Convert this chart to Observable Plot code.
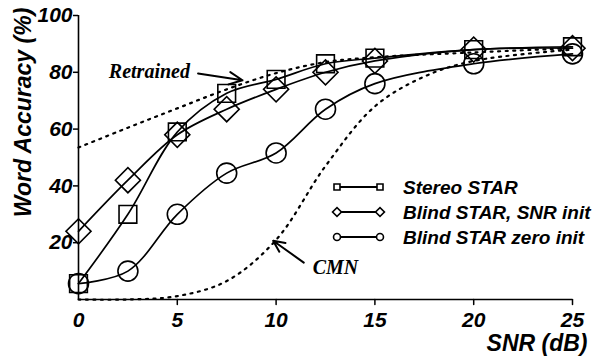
<!DOCTYPE html>
<html>
<head>
<meta charset="utf-8">
<script src="https://cdn.jsdelivr.net/npm/d3@7"></script>
<script src="https://cdn.jsdelivr.net/npm/@observablehq/plot@0.6"></script>
<style>
  html, body { margin: 0; padding: 0; background: #fff; }
</style>
</head>
<body>
<div id="chart"></div>
<script>
// Word accuracy (%) versus SNR (dB) for the compensation methods
const snr = [0, 2.5, 5, 7.5, 10, 12.5, 15, 20, 25];
const stereoStar = [5.6, 30, 59, 72.6, 77.5, 83, 85, 88, 89];
const blindSnrInit = [24, 42, 58, 67, 74, 80, 84, 88, 88.5];
const blindZeroInit = [5.6, 10, 30, 44.5, 51.6, 67, 76, 83, 86.5];

// Reference curves (dotted)
const retrainedSnr = [0, 2.5, 5, 7.5, 10, 12.5, 15, 20, 25];
const retrained = [53.5, 60.5, 67.3, 74, 79.7, 83.6, 85.3, 87, 88.5];
const cmnSnr = [0, 2.5, 5, 7.5, 10, 12.5, 15, 17.5, 20, 25];
const cmn = [0, 0, 1.2, 6.5, 21, 47, 68, 78.5, 84, 88];

const seriesNames = ["Stereo STAR", "Blind STAR, SNR init", "Blind STAR zero init"];
const xTicks = [0, 5, 10, 15, 20, 25];
const yTicks = [20, 40, 60, 80, 100];

// Callouts for the dotted curves
const callouts = [
  {label: "Retrained", tx: 5.64, ty: 80.4, anchor: "end", x1: 6.05, y1: 79.6, x2: 8.3, y2: 77.2},
  {label: "CMN", tx: 11.85, ty: 11.2, anchor: "start", x1: 11.4, y1: 13, x2: 9.85, y2: 20.7}
];

const rows = (xs, ys, name) => xs.map((x, i) => ({snr: x, acc: ys[i], name}));
const stereoRows = rows(snr, stereoStar, seriesNames[0]);
const snrInitRows = rows(snr, blindSnrInit, seriesNames[1]);
const zeroInitRows = rows(snr, blindZeroInit, seriesNames[2]);
const retrainedRows = rows(retrainedSnr, retrained, "Retrained");
const cmnRows = rows(cmnSnr, cmn, "CMN");

const sans = "'Liberation Sans', Arial, Helvetica, sans-serif";
const serif = "'Liberation Serif', 'Times New Roman', serif";

// Short inward tick for the x axis
const tickUp = {draw(context, l) { context.moveTo(0, 0); context.lineTo(0, l); }};

const lineStyle = {x: "snr", y: "acc", stroke: "black", strokeWidth: 1.7, curve: "catmull-rom"};
const dotStyle = {x: "snr", y: "acc", stroke: "black", strokeWidth: 1.6, fill: "none", r: 10};
const dotted = {x: "snr", y: "acc", stroke: "black", strokeWidth: 2.2, strokeDasharray: "2 5.5", curve: "catmull-rom"};

const chart = Plot.plot({
  width: 598,
  height: 356,
  marginLeft: 78,
  marginRight: 26,
  marginTop: 15,
  marginBottom: 57,
  style: {fontFamily: sans, fontWeight: "bold", fontStyle: "italic", background: "#fff", color: "#000", overflow: "visible"},
  x: {domain: [0, 25]},
  y: {domain: [0, 100]},
  marks: [
    // axes
    Plot.axisX(xTicks, {tickSize: 0, tickPadding: 13, fontSize: 21, label: null, fontWeight: "bold", fontStyle: "italic"}),
    Plot.vector(xTicks.slice(1), {x: d => d, y: 0, length: 5, rotate: 0, anchor: "start", shape: tickUp, stroke: "black", strokeWidth: 1.5}),
    Plot.axisY(yTicks, {tickSize: 5, tickPadding: 1, fontSize: 21, label: null, strokeWidth: 1.5}),
    Plot.ruleX([0], {stroke: "black", strokeWidth: 1.6}),
    Plot.ruleY([0], {stroke: "black", strokeWidth: 1.6}),
    Plot.text(["Word Accuracy (%)"], {frameAnchor: "top-left", rotate: -90, dx: -55, dy: 97, fontSize: 23, textAnchor: "middle", lineAnchor: "middle"}),
    Plot.text(["SNR (dB)"], {frameAnchor: "bottom-right", dx: 15, dy: 44, fontSize: 23, textAnchor: "end", lineAnchor: "middle"}),

    // dotted reference curves
    Plot.line(retrainedRows, dotted),
    Plot.line(cmnRows, dotted),

    // measured series
    Plot.line(stereoRows, lineStyle),
    Plot.line(snrInitRows, lineStyle),
    Plot.line(zeroInitRows, lineStyle),
    Plot.dot(stereoRows, {...dotStyle, symbol: "square"}),
    Plot.dot(snrInitRows, {...dotStyle, symbol: "square", rotate: 45}),
    Plot.dot(zeroInitRows, {...dotStyle, symbol: "circle"}),

    // callouts
    Plot.arrow(callouts, {x1: "x1", y1: "y1", x2: "x2", y2: "y2", stroke: "black", strokeWidth: 2, headLength: 11, headAngle: 50}),
    Plot.text(callouts.filter(d => d.anchor === "end"), {x: "tx", y: "ty", text: "label", textAnchor: "end", fontFamily: serif, fontSize: 20, lineAnchor: "middle"}),
    Plot.text(callouts.filter(d => d.anchor === "start"), {x: "tx", y: "ty", text: "label", textAnchor: "start", fontFamily: serif, fontSize: 20, lineAnchor: "middle"})
  ]
});

// Legend: small marker – line – marker, then the series name
const legend = d3.select(chart).append("g")
  .attr("transform", "translate(337,187)")
  .attr("font-family", sans)
  .attr("font-size", 19)
  .attr("font-weight", "bold")
  .attr("font-style", "italic")
  .attr("text-anchor", "start");

const legendSymbols = [
  {type: d3.symbolSquare, size: 36, rotate: 0},
  {type: d3.symbolSquare, size: 40, rotate: 45},
  {type: d3.symbolCircle, size: 38, rotate: 0}
];

seriesNames.forEach((name, i) => {
  const row = legend.append("g").attr("transform", `translate(0,${i * 25})`);
  row.append("line").attr("x1", 0).attr("x2", 43).attr("stroke", "black").attr("stroke-width", 2);
  const s = legendSymbols[i];
  for (const cx of [0, 43]) {
    row.append("path")
      .attr("d", d3.symbol(s.type, s.size)())
      .attr("transform", `translate(${cx},0) rotate(${s.rotate})`)
      .attr("fill", "white")
      .attr("stroke", "black")
      .attr("stroke-width", 1.6);
  }
  row.append("text").attr("x", 66).attr("dy", "0.35em").attr("text-anchor", "start").text(name);
});

document.getElementById("chart").appendChild(chart);
</script>
</body>
</html>
